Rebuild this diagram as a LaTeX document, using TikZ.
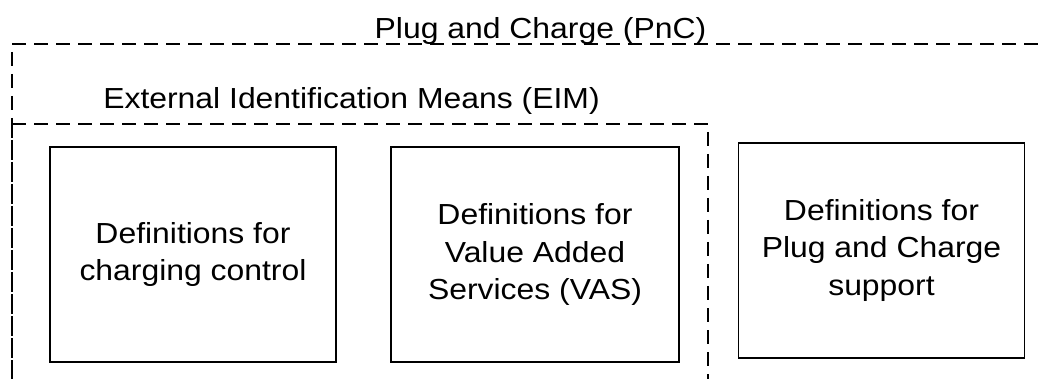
\documentclass[tikz,border=0pt]{standalone}
\usepackage{fontspec}
\setmainfont{Liberation Sans}[FakeStretch=1.1]
\begin{document}
\begin{tikzpicture}[x=0.5pt,y=-0.5pt,
  frame/.style={line width=0.9pt,dash pattern=on 7pt off 4pt},
  defbox/.style={draw,line width=0.9pt,minimum width=143pt,minimum height=107.5pt,
    align=center,inner sep=0pt,font=\fontsize{14.5}{18.75}\selectfont},
  title/.style={anchor=base,inner sep=0pt,font=\fontsize{14.5}{18.75}\selectfont}]
\useasboundingbox(0,0)rectangle(1038,379);
\clip(0,0)rectangle(1038,379);
% Plug and Charge frame
\draw[frame](12,44)--(1050,44);
\draw[frame](12,52)--(12,400);
\node[title](pnc)at(540.5,38.3){Plug and Charge (PnC)};
% EIM frame
\draw[frame](12,124)--(708,124)--(708,400);
\draw[frame](12,124)--(12,400);
\node[title](eim)at(351.5,108.3){External Identification Means (EIM)};
% definition boxes
\node[defbox](ctrl)at(193,254.5){Definitions for\\charging control};
\node[defbox,minimum width=144pt](vas)at(535,254.5){Definitions for\\Value Added\\Services (VAS)};
\node[defbox](pncsup)at(881.5,250.5){Definitions for\\Plug and Charge\\support};
\end{tikzpicture}
\end{document}
